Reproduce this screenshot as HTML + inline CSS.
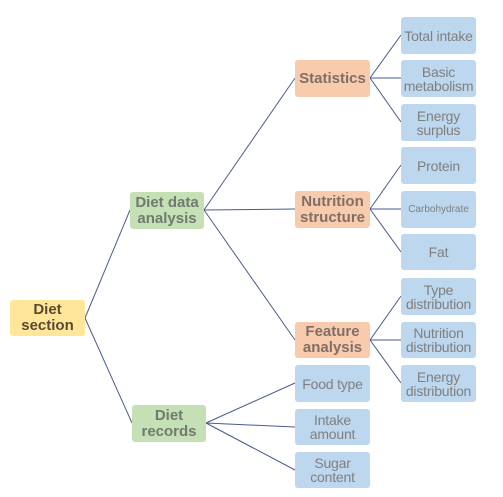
<!DOCTYPE html>
<html><head><meta charset="utf-8"><style>
body{margin:0;background:#fff;width:503px;height:497px;position:relative;overflow:hidden;font-family:"Liberation Sans",sans-serif}
.n{position:absolute;display:flex;align-items:center;justify-content:center;text-align:center;border-radius:3px;line-height:14px;font-size:14px;color:#7f7f7f;white-space:nowrap;letter-spacing:-0.2px}
.b{font-weight:bold;font-size:15px;line-height:16px;letter-spacing:0}
.y{background:#ffe699;color:#5a4a32}.g{background:#c5e0b4;color:#707a70}.o{background:#f8cbad;color:#7f6f68}.l{background:#bdd7ee}
svg{position:absolute;left:0;top:0}
</style></head><body>
<svg width="503" height="497">
<g stroke="#4a5a90" stroke-width="1" fill="none">
<line x1="85" y1="318" x2="130" y2="210"/><line x1="85" y1="318" x2="132" y2="423"/>
<line x1="204" y1="210" x2="295" y2="78"/><line x1="204" y1="210" x2="295" y2="209"/><line x1="204" y1="210" x2="295" y2="340"/>
<line x1="206" y1="423" x2="295" y2="383"/><line x1="206" y1="423" x2="295" y2="427"/><line x1="206" y1="423" x2="295" y2="470"/>
<line x1="370" y1="78" x2="401" y2="35"/><line x1="370" y1="78" x2="401" y2="78"/><line x1="370" y1="78" x2="401" y2="122"/>
<line x1="370" y1="209" x2="401" y2="165"/><line x1="370" y1="209" x2="401" y2="209"/><line x1="370" y1="209" x2="401" y2="252"/>
<line x1="370" y1="340" x2="401" y2="296"/><line x1="370" y1="340" x2="401" y2="340"/><line x1="370" y1="340" x2="401" y2="383"/>
</g></svg>
<div class="n b y" style="left:10px;top:300px;width:75px;height:36px">Diet<br>section</div>
<div class="n b g" style="left:130px;top:192px;width:74px;height:37px">Diet data<br>analysis</div>
<div class="n b g" style="left:132px;top:405px;width:74px;height:37px">Diet<br>records</div>
<div class="n b o" style="left:295px;top:60px;width:75px;height:37px">Statistics</div>
<div class="n b o" style="left:295px;top:191px;width:75px;height:37px">Nutrition<br>structure</div>
<div class="n b o" style="left:295px;top:322px;width:75px;height:36px">Feature<br>analysis</div>
<div class="n l" style="left:295px;top:365px;width:75px;height:37px">Food type</div>
<div class="n l" style="left:295px;top:409px;width:75px;height:36px">Intake<br>amount</div>
<div class="n l" style="left:295px;top:452px;width:75px;height:36px">Sugar<br>content</div>
<div class="n l" style="left:401px;top:17px;width:75px;height:37px">Total intake</div>
<div class="n l" style="left:401px;top:60px;width:75px;height:37px">Basic<br>metabolism</div>
<div class="n l" style="left:401px;top:104px;width:75px;height:37px">Energy<br>surplus</div>
<div class="n l" style="left:401px;top:147px;width:75px;height:37px">Protein</div>
<div class="n l" style="left:401px;top:191px;width:75px;height:37px;font-size:10px;letter-spacing:0">Carbohydrate</div>
<div class="n l" style="left:401px;top:234px;width:75px;height:36px">Fat</div>
<div class="n l" style="left:401px;top:278px;width:75px;height:37px">Type<br>distribution</div>
<div class="n l" style="left:401px;top:322px;width:75px;height:36px">Nutrition<br>distribution</div>
<div class="n l" style="left:401px;top:365px;width:75px;height:37px">Energy<br>distribution</div>
</body></html>
